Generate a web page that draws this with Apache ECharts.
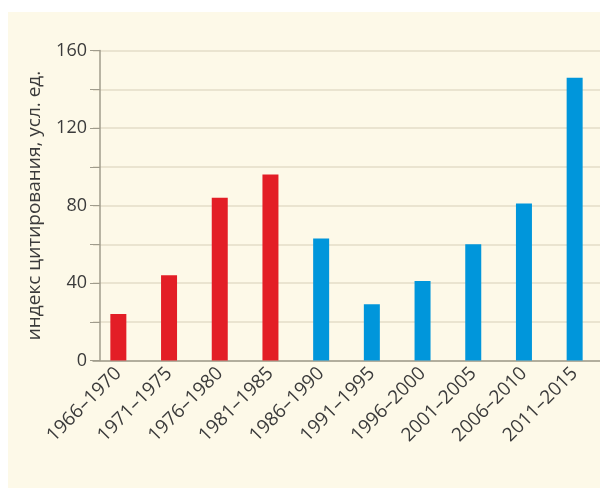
<!DOCTYPE html>
<html>
<head>
<meta charset="utf-8">
<script src="https://cdn.jsdelivr.net/npm/echarts@6/dist/echarts.min.js"></script>
<style>
  html, body { margin: 0; padding: 0; background: #fff; }
  #chart { width: 600px; height: 488px; }
</style>
</head>
<body>
<div id="chart"></div>
<script>
// периоды
const periods = ["1966–1970", "1971–1975", "1976–1980", "1981–1985", "1986–1990",
  "1991–1995", "1996–2000", "2001–2005", "2006–2010", "2011–2015"];
// индекс цитирования
const citationIndex = [24, 44, 84, 96, 63, 29, 41, 60, 81, 146];
// цвет столбца: первые 4 красные, остальные синие
const barColors = ["#e31e26", "#e31e26", "#e31e26", "#e31e26", "#0096db",
  "#0096db", "#0096db", "#0096db", "#0096db", "#0096db"];
const yTicks = [0, 40, 80, 120, 160];

const textColor = "#3b3b3b";
const chart = echarts.init(document.getElementById("chart"));

chart.setOption({
  backgroundColor: "#ffffff",
  animation: false,
  graphic: [
    {
      type: "rect",
      z: -10,
      shape: { x: 8, y: 12, width: 592, height: 476 },
      style: { fill: "#fdf9e8" },
    },
  ],
  grid: { left: 93, top: 50.5, width: 514, height: 310 },
  xAxis: {
    type: "category",
    data: periods,
    axisLine: { lineStyle: { color: "#a09c8c", width: 1.5 } },
    axisTick: { show: false },
    axisLabel: {
      rotate: 45,
      margin: 10,
      color: textColor,
      fontSize: 19,
      fontFamily: "Open Sans",
    },
  },
  yAxis: {
    type: "value",
    min: 0,
    max: 160,
    interval: 20,
    offset: -7,
    name: "индекс цитирования, усл. ед.",
    nameLocation: "middle",
    nameGap: 56,
    nameTextStyle: { color: textColor, fontSize: 19, fontFamily: "Open Sans" },
    axisLine: { show: true, lineStyle: { color: "#a09c8c", width: 1.5 } },
    axisTick: { show: true, length: 10, lineStyle: { color: "#a09c8c" } },
    axisLabel: {
      margin: 13,
      color: textColor,
      fontSize: 18,
      fontFamily: "Open Sans",
      formatter: (v) => (yTicks.includes(v) ? String(v) : ""),
    },
    splitLine: { lineStyle: { color: "#e3ddc8", width: 1.5 } },
  },
  series: [
    {
      type: "bar",
      barWidth: 16,
      data: citationIndex.map((v, i) => ({ value: v, itemStyle: { color: barColors[i] } })),
    },
  ],
});
</script>
</body>
</html>
